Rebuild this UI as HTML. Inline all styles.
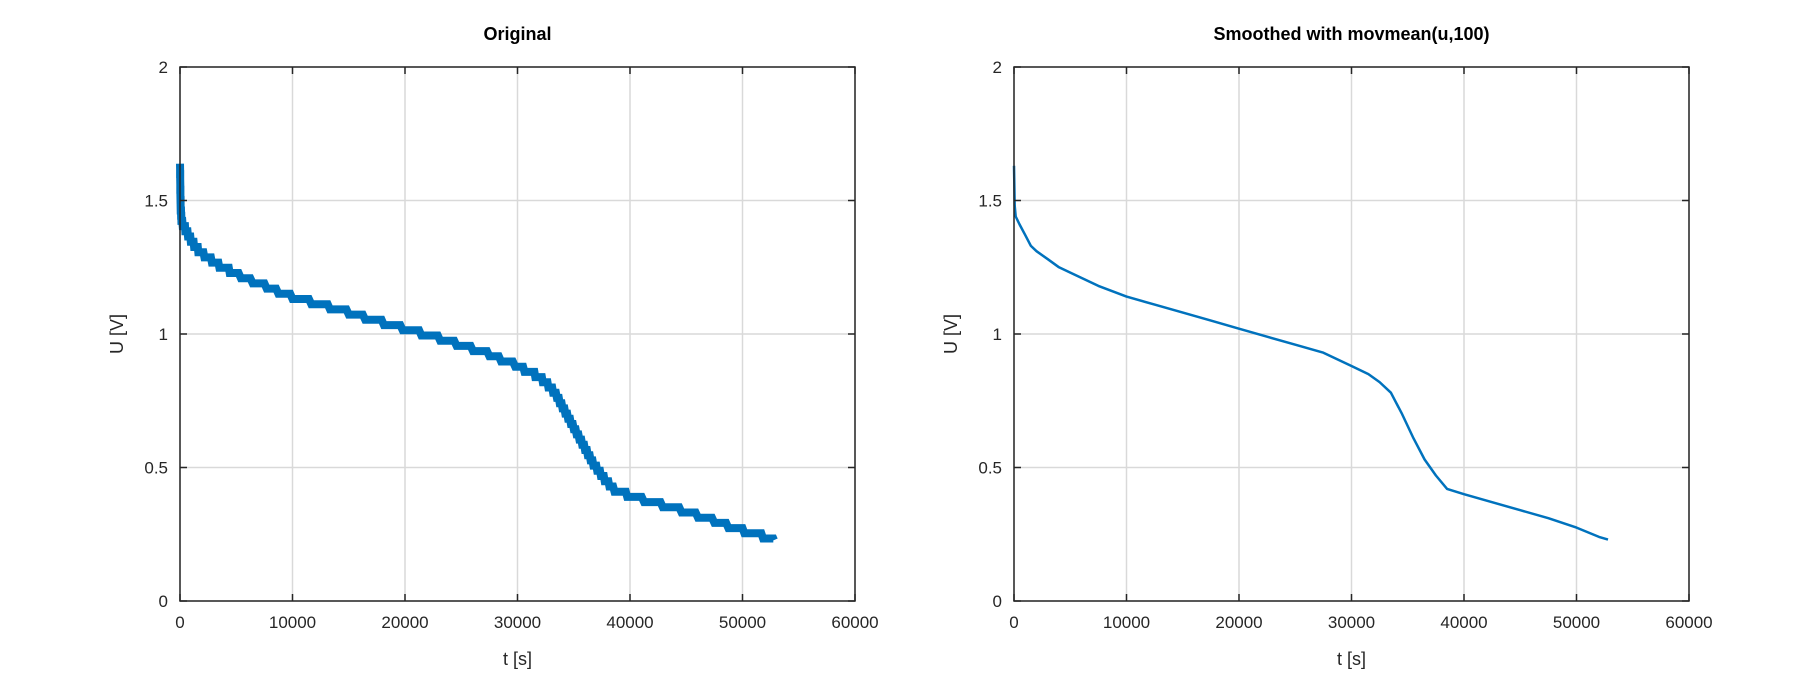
<!DOCTYPE html>
<html><head><meta charset="utf-8">
<style>
body{margin:0;background:#fff;}
svg{display:block;font-family:"Liberation Sans",sans-serif;}
</style></head>
<body>
<svg id="chart" width="1800" height="700" viewBox="0 0 1800 700"></svg>
<script>
const xTicks = [0,10000,20000,30000,40000,50000,60000];
const yTicks = [0,0.5,1,1.5,2];
const yTickLabels = ['0','0.5','1','1.5','2'];
const tOriginal = [0,60,150,500,1000,1500,2000,3000,4000,5000,7500,10000,12500,15000,17500,20000,22500,25000,27500,30000,31500,32500,33500,34500,35500,36500,37500,38500,40000,42500,45000,47500,50000,52000,52800];
const uOriginal = [1.63,1.47,1.42,1.39,1.35,1.32,1.30,1.27,1.245,1.225,1.18,1.14,1.11,1.08,1.05,1.02,0.99,0.96,0.925,0.88,0.85,0.82,0.77,0.69,0.61,0.53,0.47,0.42,0.395,0.365,0.335,0.30,0.265,0.24,0.228];
const tSmooth = tOriginal;
const uSmooth = [1.63,1.48,1.44,1.41,1.37,1.33,1.31,1.28,1.25,1.23,1.18,1.14,1.11,1.08,1.05,1.02,0.99,0.96,0.93,0.88,0.85,0.82,0.78,0.70,0.61,0.53,0.47,0.42,0.40,0.37,0.34,0.31,0.275,0.24,0.23];

const NS='http://www.w3.org/2000/svg';
const svg=document.getElementById('chart');
function mk(tag,attrs,parent){const e=document.createElementNS(NS,tag);for(const k in attrs)e.setAttribute(k,attrs[k]);(parent||svg).appendChild(e);return e;}

function panel(x0,title,ts,us,thick,prefix){
  const W=675,top=67,bot=601,H=bot-top;
  const xs=v=>x0+v/60000*W, ys=v=>bot-v/2*H;
  const g=mk('g',{});
  
  
  mk('rect',{x:x0,y:top,width:W,height:H,fill:'#fff'},g);
  xTicks.forEach(v=>{
    const l=mk('line',{x1:xs(v),x2:xs(v),y1:top,y2:bot,stroke:'#d9d9d9','stroke-width':1.5},g);
    
    
  });
  yTicks.forEach(v=>{
    const l=mk('line',{x1:x0,x2:x0+W,y1:ys(v),y2:ys(v),stroke:'#d9d9d9','stroke-width':1.5},g);
    
    
  });
  let pts;
  if(thick){
    const q=0.0195; pts=[];
    for(let i=1;i<ts.length;i++){
      const n=12;
      for(let k=0;k<n;k++){
        const f=k/n;
        const t=ts[i-1]+(ts[i]-ts[i-1])*f;
        const u=us[i-1]+(us[i]-us[i-1])*f;
        const uq=Math.round(u/q)*q;
        pts.push(xs(t).toFixed(1)+','+ys(uq).toFixed(1));
      }
    }
    pts.push(xs(ts[ts.length-1]).toFixed(1)+','+ys(us[us.length-1]).toFixed(1));
    const sp=mk('line',{x1:xs(ts[0]),x2:xs(ts[0]),y1:ys(us[0]),y2:ys(us[2]),stroke:'#0072bd','stroke-width':2.5},g);
    
    
    const p=mk('polyline',{points:pts.join(' '),fill:'none',stroke:'#0072bd','stroke-width':8,'stroke-linejoin':'miter'},g);
    
    
  } else {
    pts=ts.map((t,i)=>xs(t).toFixed(1)+','+ys(us[i]).toFixed(1));
    const p=mk('polyline',{points:pts.join(' '),fill:'none',stroke:'#0072bd','stroke-width':2.5,'stroke-linejoin':'round'},g);
    
    
  }
  mk('rect',{x:x0,y:top,width:W,height:H,fill:'none',stroke:'#262626','stroke-width':1.5},g);
  xTicks.forEach(v=>{
    mk('line',{x1:xs(v),x2:xs(v),y1:bot,y2:bot-7,stroke:'#262626','stroke-width':1.5},g);
    mk('line',{x1:xs(v),x2:xs(v),y1:top,y2:top+7,stroke:'#262626','stroke-width':1.5},g);
    const t=mk('text',{x:xs(v),y:bot+27,'text-anchor':'middle','font-size':17,fill:'#262626'},g);
    t.textContent=String(v);
    
    
  });
  yTicks.forEach((v,i)=>{
    mk('line',{x1:x0,x2:x0+7,y1:ys(v),y2:ys(v),stroke:'#262626','stroke-width':1.5},g);
    mk('line',{x1:x0+W,x2:x0+W-7,y1:ys(v),y2:ys(v),stroke:'#262626','stroke-width':1.5},g);
    const t=mk('text',{x:x0-12,y:ys(v)+6,'text-anchor':'end','font-size':17,fill:'#262626'},g);
    t.textContent=yTickLabels[i];
    
    
  });
  const tt=mk('text',{x:x0+W/2,y:40,'text-anchor':'middle','font-size':18,'font-weight':'bold',fill:'#000'},g);
  tt.textContent=title;
  
  
  const xl=mk('text',{x:x0+W/2,y:665,'text-anchor':'middle','font-size':18,fill:'#262626'},g);
  xl.textContent='t [s]';
  
  
  const yl=mk('text',{x:0,y:0,'text-anchor':'middle','font-size':18,fill:'#262626',transform:`translate(${x0-57},${(top+bot)/2}) rotate(-90)`},g);
  yl.textContent='U [V]';
  
  
}
panel(180,'Original',tOriginal,uOriginal,true,'original-plot');
panel(1014,'Smoothed with movmean(u,100)',tSmooth,uSmooth,false,'smoothed-plot');
</script>
</body></html>
